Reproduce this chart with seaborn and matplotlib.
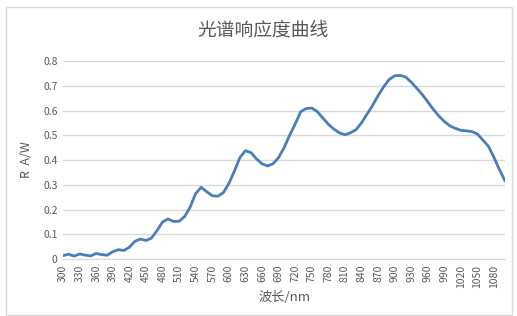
import numpy as np
import pandas as pd
import seaborn as sns
import matplotlib
matplotlib.use('Agg')
import matplotlib.pyplot as plt
from matplotlib.patches import Rectangle

# wavelength (nm), step 10
wavelength = list(range(300, 1101, 10))
# responsivity R (A/W)
response = [
    0.014, 0.020, 0.012, 0.021, 0.016, 0.013, 0.023, 0.018, 0.016, 0.030,
    0.038, 0.035, 0.048, 0.072, 0.081, 0.075, 0.085, 0.115, 0.150, 0.162,
    0.152, 0.153, 0.172, 0.210, 0.265, 0.290, 0.272, 0.256, 0.254, 0.268,
    0.305, 0.355, 0.410, 0.438, 0.430, 0.405, 0.385, 0.376, 0.385, 0.410,
    0.450, 0.500, 0.545, 0.595, 0.608, 0.610, 0.596, 0.570, 0.545, 0.525,
    0.510, 0.502, 0.510, 0.522, 0.550, 0.585, 0.620, 0.660, 0.695, 0.725,
    0.740, 0.742, 0.735, 0.715, 0.690, 0.665, 0.635, 0.605, 0.578, 0.556,
    0.538, 0.528, 0.520, 0.518, 0.515, 0.505, 0.480, 0.455, 0.410, 0.360,
    0.315,
]
x_ticks = list(range(300, 1081, 30))
y_ticks = [0, 0.1, 0.2, 0.3, 0.4, 0.5, 0.6, 0.7, 0.8]
y_tick_labels = ['0', '0.1', '0.2', '0.3', '0.4', '0.5', '0.6', '0.7', '0.8']

df = pd.DataFrame({'wavelength': wavelength, 'R': response})

sns.set_style('white')
plt.rcParams['font.family'] = ['Noto Sans CJK SC', 'DejaVu Sans']

fig = plt.figure(figsize=(5.17, 3.16), dpi=100)
ax = fig.add_axes([0.122, 0.18, 0.855, 0.627])

sns.lineplot(data=df, x='wavelength', y='R', color='#4a7ebb', linewidth=2.0, ax=ax)

ax.set_xlim(300, 1100)
ax.set_ylim(0, 0.8)
ax.set_yticks(y_ticks)
ax.set_yticklabels(y_tick_labels)
ax.set_xticks(x_ticks)
ax.set_xticklabels([str(t) for t in x_ticks], rotation=90)
ax.tick_params(axis='both', labelsize=7.5, colors='#595959', length=0, pad=4)
ax.grid(axis='y', color='#d9d9d9', linewidth=1)
ax.set_axisbelow(True)
for s in ['top', 'right', 'left']:
    ax.spines[s].set_visible(False)
ax.spines['bottom'].set_color('#d9d9d9')

ax.set_xlabel('波长/nm', fontsize=9.5, color='#595959', labelpad=2)
ax.set_ylabel('R  A/W', fontsize=9, color='#595959', labelpad=7)
fig.text(0.508, 0.905, '光谱响应度曲线', ha='center', va='center', fontsize=13.5, color='#595959')

fig.patches.append(Rectangle((6 / 517, 1 / 316), 506 / 517, 308 / 316, transform=fig.transFigure,
                             fill=False, edgecolor='#d9d9d9', linewidth=1))

fig.savefig('out.png', dpi=100)
